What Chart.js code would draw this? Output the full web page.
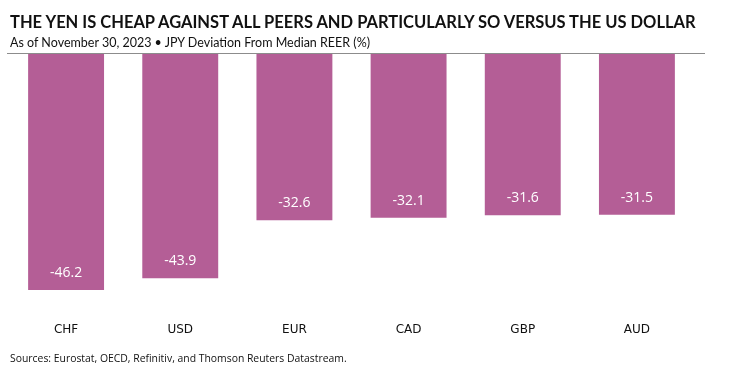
<!DOCTYPE html>
<html>
<head>
<meta charset="utf-8">
<script src="https://cdn.jsdelivr.net/npm/chart.js@4"></script>
<style>
  body { margin: 0; background: #fff; width: 738px; height: 389px; overflow: hidden; position: relative; }
  #title { position: absolute; left: 10px; top: 12px; font: bold 16.5px Lato, sans-serif; color: #111; white-space: nowrap; }
  #subtitle { position: absolute; left: 10px; top: 35px; font: 12.5px Lato, sans-serif; color: #111; white-space: nowrap; }
  #source { position: absolute; left: 10px; top: 351px; font: 10.4px "Open Sans", sans-serif; color: #111; white-space: nowrap; }
  #wrap { position: absolute; left: 0; top: 0; width: 738px; height: 389px; }
</style>
</head>
<body>
<div id="wrap"><canvas id="chart"></canvas></div>
<div id="title">THE YEN IS CHEAP AGAINST ALL PEERS AND PARTICULARLY SO VERSUS THE US DOLLAR</div>
<div id="subtitle">As of November 30, 2023 • JPY Deviation From Median REER (%)</div>
<div id="source">Sources: Eurostat, OECD, Refinitiv, and Thomson Reuters Datastream.</div>
<script>
const currencies = ['CHF', 'USD', 'EUR', 'CAD', 'GBP', 'AUD'];
const deviations = [-46.2, -43.9, -32.6, -32.1, -31.6, -31.5];

// zero line across the top of the plot
const zeroLine = {
    id: 'zeroLine',
    afterDatasetsDraw(chart) {
        const ctx = chart.ctx;
        const y = Math.round(chart.scales.y.getPixelForValue(0)) + 0.5;
        ctx.save();
        ctx.strokeStyle = '#8c8c8c';
        ctx.lineWidth = 1;
        ctx.beginPath();
        ctx.moveTo(7, y);
        ctx.lineTo(705, y);
        ctx.stroke();
        ctx.restore();
    }
};

// white value labels near the bar ends
const barLabels = {
    id: 'barLabels',
    afterDatasetsDraw(chart) {
        const ctx = chart.ctx;
        const meta = chart.getDatasetMeta(0);
        ctx.save();
        ctx.fillStyle = '#fff';
        ctx.font = '500 14px "Open Sans", sans-serif';
        ctx.textAlign = 'center';
        ctx.textBaseline = 'middle';
        meta.data.forEach((bar, i) => {
            ctx.fillText(deviations[i].toFixed(1), bar.x, bar.y - 17);
        });
        ctx.restore();
    }
};

new Chart(document.getElementById('chart'), {
    type: 'bar',
    data: {
        labels: currencies,
        datasets: [{
            data: deviations,
            backgroundColor: '#b45e96',
            borderWidth: 0,
            barPercentage: 0.665,
            categoryPercentage: 1
        }]
    },
    options: {
        responsive: true,
        maintainAspectRatio: false,
        animation: false,
        layout: { padding: { top: 53, left: 9, right: 44, bottom: 39 } },
        plugins: {
            legend: { display: false },
            tooltip: { enabled: false }
        },
        scales: {
            y: { display: false, min: -50, max: 0 },
            x: {
                grid: { display: false, drawTicks: false },
                border: { display: false },
                ticks: { color: '#111', font: { family: 'DejaVu Sans', size: 12 }, padding: 13 }
            }
        }
    },
    plugins: [zeroLine, barLabels]
});
</script>
</body>
</html>
